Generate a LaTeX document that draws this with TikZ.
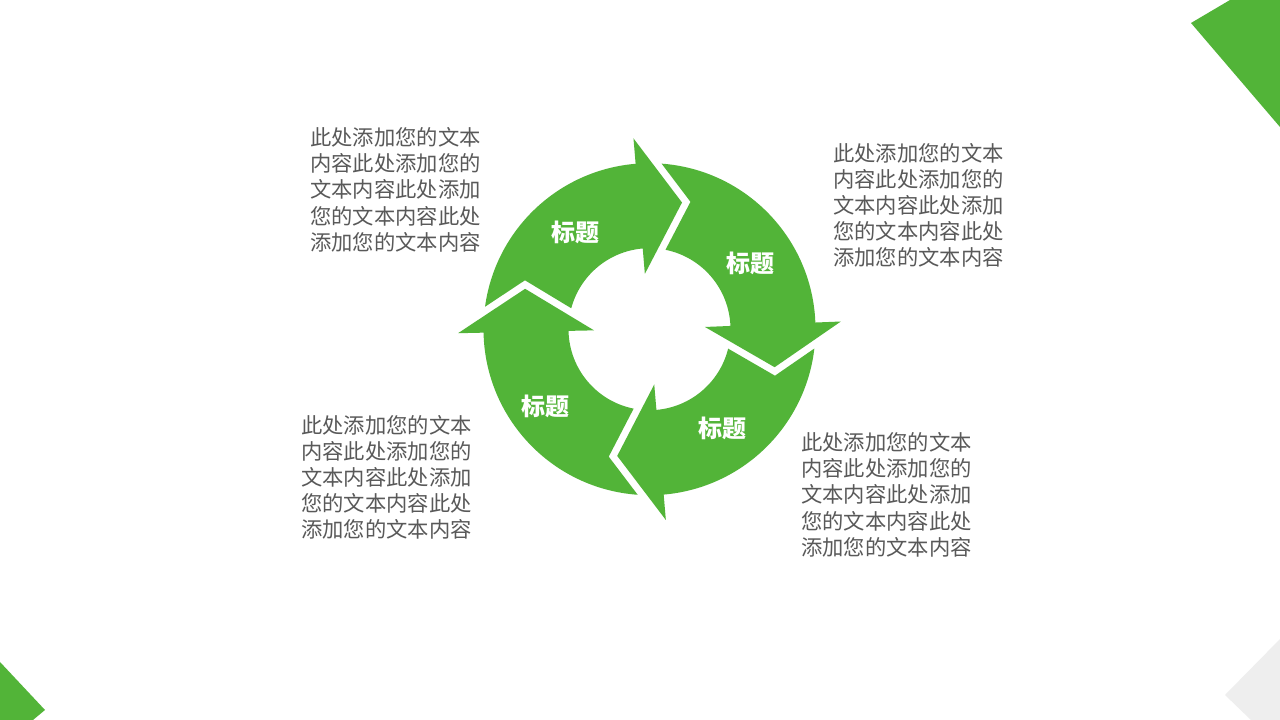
\documentclass[tikz,border=0pt]{standalone}
\usepackage{fontspec}
\newfontfamily\cjk{Noto Sans CJK SC}
\usetikzlibrary{calc}
\definecolor{leaf}{RGB}{82,180,56}
\definecolor{bodygray}{RGB}{89,89,89}
\definecolor{palegray}{RGB}{238,238,238}
% #1 = base angle of the previous head, #2 = base angle of this head
\newcommand{\cyclearrow}[2]{%
  \fill[leaf] ($(C)+({#1-8.98}:166pt)$)
    arc[start angle={#1-8.98}, end angle={#2}, radius=166pt]
    -- ($(C)+({#2}:191.5pt)$)
    -- ($(C)+({#2}:123.5pt)+({#2-90}:43pt)$)
    -- ($(C)+({#2}:55.5pt)$)
    -- ($(C)+({#2}:81pt)$)
    arc[start angle={#2}, end angle={#1-16.19}, radius=81pt]
    -- ($(C)+({#1}:123.5pt)+({#1-90}:51.5pt)$)
    -- cycle;}
\newcommand{\blurbtext}{\vtop{\hbox{此处添加您的文本}\hbox{内容此处添加您的}\hbox{文本内容此处添加}\hbox{您的文本内容此处}\hbox{添加您的文本内容}}}
\tikzset{
  blurb/.style={anchor=base west, inner sep=0pt, text=bodygray,
    font=\cjk\fontsize{21.3}{26.2}\selectfont},
  heading/.style={inner sep=0pt, text=white,
    font=\cjk\bfseries\fontsize{24}{24}\selectfont}
}
\begin{document}
\begin{tikzpicture}[x=1pt,y=1pt]
\useasboundingbox (0,0) rectangle (1280,720);
\fill[white] (0,0) rectangle (1280,720);
% corner decorations
\fill[leaf] (1230,720) -- (1191,697) -- (1280,593) -- (1280,720) -- cycle;
\fill[leaf] (0,58) -- (45,10) -- (33,0) -- (0,0) -- cycle;
\fill[palegray] (1280,81) -- (1225,25) -- (1251,0) -- (1280,0) -- cycle;
% cycle
\coordinate (C) at (649.5,390.8);
\cyclearrow{181.2}{94.8}
\cyclearrow{94.8}{2.3}
\cyclearrow{2.3}{-85.1}
\cyclearrow{-85.1}{-178.8}
% headings
\node[heading] (h1) at (575,488) {标题};
\node[heading] (h2) at (750,456.5) {标题};
\node[heading] (h3) at (722,291.5) {标题};
\node[heading] (h4) at (545,313.5) {标题};
% text blocks
\node[blurb] (b1) at (310,574.4) {\blurbtext};
\node[blurb] (b2) at (833,558.9) {\blurbtext};
\node[blurb] (b3) at (301,286.9) {\blurbtext};
\node[blurb] (b4) at (801,269.4) {\blurbtext};
\end{tikzpicture}
\end{document}
